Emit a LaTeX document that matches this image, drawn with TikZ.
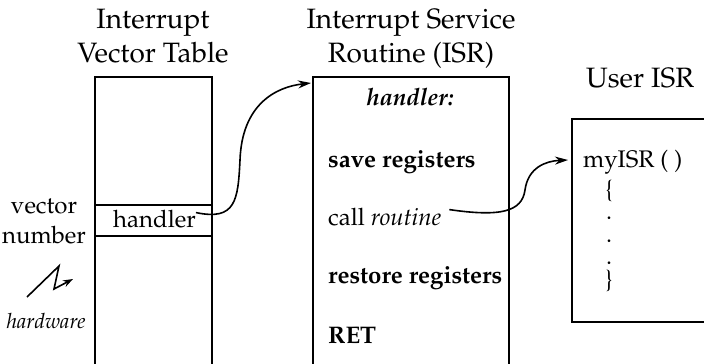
\documentclass[tikz,border=0pt]{standalone}
\usepackage[T1]{fontenc}
\usepackage{mathpazo}
\usetikzlibrary{arrows.meta}

\tikzset{
  frame/.style={line width=1.3pt},
  title/.style={font=\fontsize{28}{34}\selectfont, align=center, anchor=base, inner sep=0pt},
  body/.style={font=\fontsize{24}{28}\selectfont, anchor=base west, inner sep=0pt},
  link/.style={line width=1.6pt, -{Stealth[length=13pt,width=8pt]}},
}

\begin{document}
\begin{tikzpicture}[x=1pt,y=-1pt]
  \useasboundingbox (0,0) rectangle (704,364);

  % --- column headings
  \node[title] (ivtA) at (153,28) {Interrupt};
  \node[title] (ivtB) at (153,62) {Vector Table};
  \node[title] (isrA) at (411,28) {Interrupt Service};
  \node[title] (isrB) at (411,62) {Routine (ISR)};
  \node[title] (usr)  at (640,87) {User ISR};

  % --- interrupt vector table (open at the bottom)
  \draw[frame] (95,364) -- (95,77) -- (212,77) -- (212,364);
  \draw[frame] (95,205) -- (212,205);
  \draw[frame] (95,236) -- (212,236);
  \node[body] (hent) at (113,227) {handler};

  % --- labels on the left
  \node[body, anchor=base] (vec) at (44,213) {vector};
  \node[body, anchor=base] (num) at (44,243) {number};
  \node[font=\fontsize{21}{24}\selectfont\itshape, anchor=base, inner sep=0pt] (hw) at (46,328) {hardware};
  \coordinate (z0) at (27,297);
  \coordinate (z1) at (59,266);
  \coordinate (z2) at (54,289);
  \coordinate (z3) at (73,279);
  \draw[line width=1.6pt, -{Stealth[length=10pt,width=7pt]}] (z0) -- (z1) -- (z2) -- (z3);

  % --- interrupt service routine (open at the bottom)
  \draw[frame] (313,364) -- (313,77) -- (509,77) -- (509,364);
  \coordinate (isrin) at (311,83);
  \node[body, anchor=base, font=\fontsize{24}{28}\selectfont\bfseries\itshape] (hlab) at (410,105) {handler:};
  \node[body, font=\fontsize{24}{28}\selectfont\bfseries] (save) at (328,167) {save registers};
  \node[body] (call) at (328,225) {call \textit{routine}};
  \node[body, font=\fontsize{24}{28}\selectfont\bfseries] (rest) at (328,283) {restore registers};
  \node[body, font=\fontsize{24}{28}\selectfont\bfseries] (ret) at (328,343) {RET};

  % --- user routine (runs off the right edge)
  \draw[frame] (704,119) -- (572,119) -- (572,322) -- (704,322);
  \coordinate (usrin) at (568,160);
  \node[body] (my) at (583,167) {myISR ( )};
  % function body: brace, three dots, brace (base = last line)
  \node[body, anchor=base, align=center, font=\fontsize{24}{22.5}\selectfont] (fbody) at (609,287)
    {\{\\.\\.\\.\\\}};

  % --- connectors
  \draw[link] (hent.east) ++(0,-6) .. controls (236,221) and (238,200) .. (240,160)
        .. controls (242,105) and (275,87) .. (isrin);
  \draw[link] (call.east) ++(8,-7) .. controls (500,217) and (522,212) .. (525,190)
        .. controls (528,168) and (545,161) .. (usrin);
\end{tikzpicture}
\end{document}
